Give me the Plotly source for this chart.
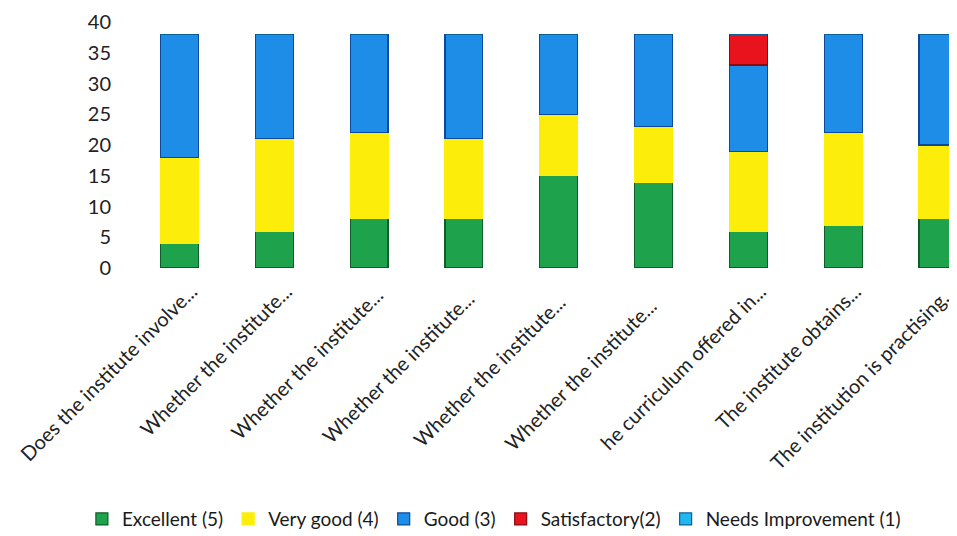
import plotly.graph_objects as go

categories = [
    "Does the institute involve...",
    "Whether the institute...",
    "Whether the institute... ",
    "Whether the institute...  ",
    "Whether the institute...   ",
    "Whether the institute...    ",
    "he curriculum offered in...",
    "The institute obtains...",
    "The institution is practising...",
]
excellent = [4, 6, 8, 8, 15, 14, 6, 7, 8]
very_good = [14, 15, 14, 13, 10, 9, 13, 15, 12]
good = [20, 17, 16, 17, 13, 15, 14, 16, 18]
satisfactory = [0, 0, 0, 0, 0, 0, 5, 0, 0]
needs_improvement = [0, 0, 0, 0, 0, 0, 0, 0, 0]

series = [
    ("Excellent (5)", excellent, "#1ea34c", "#0d5e2a"),
    ("Very good (4)", very_good, "#fcee0a", "#fcee0a"),
    ("Good (3)", good, "#1e8de8", "#0b4a9a"),
    ("Satisfactory(2)", satisfactory, "#e8131d", "#8a0a10"),
    ("Needs Improvement (1)", needs_improvement, "#22b8ef", "#0b5f9a"),
]

FONT = "Lato, Open Sans, sans-serif"

fig = go.Figure()
for name, vals, col, edge in series:
    fig.add_trace(go.Bar(
        x=list(range(len(categories))), y=vals, name=name,
        marker=dict(color=col, line=dict(color=edge, width=1.2)),
    ))

fig.update_layout(
    barmode="stack",
    bargap=0.6,
    width=949, height=528,
    margin=dict(l=124, r=0, t=14, b=268),
    paper_bgcolor="white", plot_bgcolor="white",
    font=dict(family=FONT, color="#222222"),
    showlegend=True,
    legend=dict(
        orientation="h", xref="container", yref="container",
        x=0.512, y=0.032, xanchor="center", yanchor="middle",
        font=dict(size=19, color="#1a1a1a", family=FONT),
        traceorder="normal",
    ),
)
fig.update_xaxes(
    tickmode="array", tickvals=list(range(len(categories))), ticktext=categories,
    tickangle=-45, tickfont=dict(size=20, color="#222222", family=FONT),
    range=[-0.5, 8.2], showgrid=False, showline=False, zeroline=False, ticks="",
    automargin=False, ticklabelshift=12, ticklabelstandoff=7,
    ticklabeloverflow="allow",
)
fig.update_yaxes(
    range=[0, 40], dtick=5, showgrid=False, zeroline=False, showline=False,
    tickfont=dict(size=20, color="#222222", family=FONT), ticklabelstandoff=20,
    automargin=False,
)

fig.write_html("out.html")
